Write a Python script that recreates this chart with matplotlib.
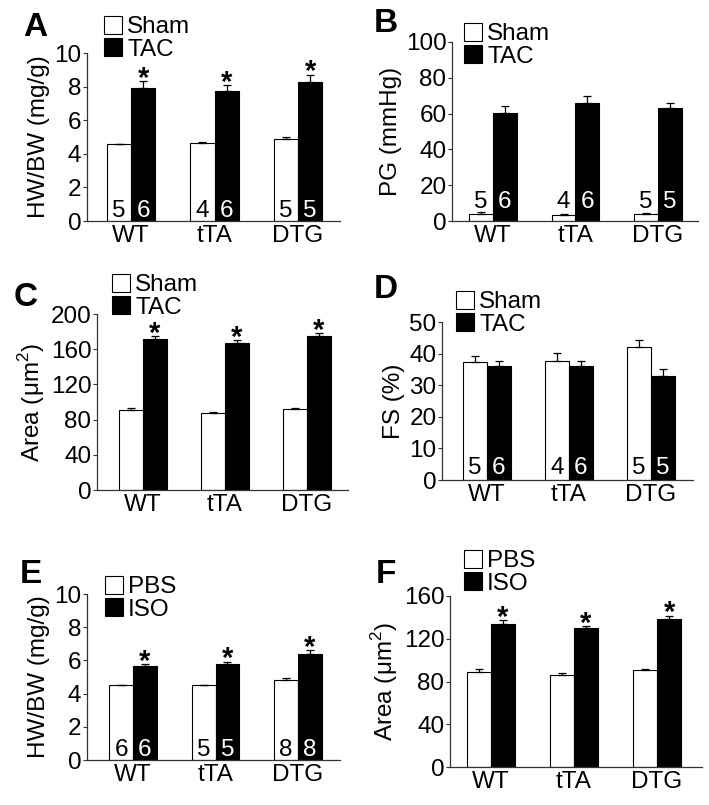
import matplotlib
matplotlib.use("Agg")
import matplotlib.pyplot as plt
from matplotlib.patches import Patch
import numpy as np

plt.rcParams['font.family'] = ['Liberation Sans', 'DejaVu Sans']
plt.rcParams['mathtext.fontset'] = 'custom'
plt.rcParams['mathtext.rm'] = 'Liberation Sans'

W, H = 709, 805
DPI = 100

genotypes = ["WT", "tTA", "DTG"]

# Panel A: HW/BW (TAC)
a_sham = [4.56, 4.67, 4.88]
a_sham_err = [0.05, 0.04, 0.11]
a_tac = [7.92, 7.76, 8.30]
a_tac_err = [0.42, 0.33, 0.40]
a_n_sham = [5, 4, 5]
a_n_tac = [6, 6, 5]
a_sig = [True, True, True]

# Panel B: PG
b_sham = [4.1, 3.5, 4.1]
b_sham_err = [1.0, 0.6, 0.5]
b_tac = [60.5, 65.7, 63.4]
b_tac_err = [3.9, 4.0, 2.8]
b_n_sham = [5, 4, 5]
b_n_tac = [6, 6, 5]
b_sig = [False, False, False]

# Panel C: Area (TAC)
c_sham = [91, 88, 92]
c_sham_err = [2.0, 0.8, 0.8]
c_tac = [171.5, 167.5, 174.5]
c_tac_err = [3.0, 3.0, 3.8]
c_sig = [True, True, True]

# Panel D: FS
d_sham = [37.2, 37.5, 42.1]
d_sham_err = [1.9, 2.6, 2.3]
d_tac = [36.2, 36.2, 32.8]
d_tac_err = [1.6, 1.6, 2.3]
d_n_sham = [5, 4, 5]
d_n_tac = [6, 6, 5]
d_sig = [False, False, False]

# Panel E: HW/BW (ISO)
e_pbs = [4.49, 4.49, 4.83]
e_pbs_err = [0.05, 0.05, 0.12]
e_iso = [5.64, 5.80, 6.38]
e_iso_err = [0.13, 0.13, 0.25]
e_n_pbs = [6, 5, 8]
e_n_iso = [6, 5, 8]
e_sig = [True, True, True]

# Panel F: Area (ISO)
f_pbs = [88.9, 85.8, 90.5]
f_pbs_err = [3.0, 2.2, 1.3]
f_iso = [134.0, 130.4, 138.6]
f_iso_err = [3.2, 1.3, 3.0]
f_sig = [True, True, True]

fig = plt.figure(figsize=(W / DPI, H / DPI), dpi=DPI)

FS = 17.5
AX_COLOR = '#333333'


def px_axes(l, r, b, t):
    return fig.add_axes([l / W, 1 - b / H, (r - l) / W, (b - t) / H])


def panel(rect, xlim, ylim, yticks, ctrl, ctrl_err, trt, trt_err, labels,
          ylabel, letter, letter_xy, leg_xy, n_ctrl=None, n_trt=None,
          sig=None, n_off=3):
    ax = px_axes(*rect)
    x = np.arange(len(genotypes))
    bw = 0.29
    ax.bar(x - bw / 2, ctrl, bw, color='white', edgecolor='black', linewidth=0.8,
           yerr=[np.zeros(len(ctrl)), ctrl_err], capsize=3,
           error_kw=dict(elinewidth=0.9, capthick=0.9, ecolor='black'), zorder=2)
    ax.bar(x + bw / 2, trt, bw, color='black', edgecolor='black', linewidth=0.8,
           yerr=[np.zeros(len(trt)), trt_err], capsize=3,
           error_kw=dict(elinewidth=0.9, capthick=0.9, ecolor='black'), zorder=2)
    ax.set_xlim(*xlim)
    ax.set_ylim(*ylim)
    ax.set_yticks(yticks)
    ax.set_xticks(x)
    ax.set_xticklabels(genotypes, fontsize=FS)
    ax.tick_params(axis='x', length=0, pad=3)
    ax.tick_params(axis='y', length=3, width=0.8, pad=1.0, labelsize=FS, color=AX_COLOR)
    for s in ['top', 'right']:
        ax.spines[s].set_visible(False)
    for s in ['left', 'bottom']:
        ax.spines[s].set_color(AX_COLOR)
        ax.spines[s].set_linewidth(0.9)
    ax.set_ylabel(ylabel, fontsize=FS, labelpad=3)
    if n_ctrl is not None:
        for i in range(len(x)):
            ax.annotate(str(n_ctrl[i]), (x[i] - bw / 2, 0), xytext=(0, n_off),
                        textcoords='offset points', ha='center', va='baseline',
                        fontsize=FS, color='black')
            ax.annotate(str(n_trt[i]), (x[i] + bw / 2, 0), xytext=(0, n_off),
                        textcoords='offset points', ha='center', va='baseline',
                        fontsize=FS, color='white')
    if sig is not None:
        for i in range(len(x)):
            if sig[i]:
                ax.annotate('*', (x[i] + bw / 2, trt[i] + trt_err[i]), xytext=(0, -4),
                            textcoords='offset points', ha='center', va='baseline',
                            fontsize=21, fontweight='bold')
    handles = [Patch(facecolor='white', edgecolor='black', linewidth=0.8),
               Patch(facecolor='black', edgecolor='black', linewidth=0.8)]
    ax.legend(handles, labels, loc='upper left',
              bbox_to_anchor=(leg_xy[0] / W, 1 - leg_xy[1] / H),
              bbox_transform=fig.transFigure, frameon=False, fontsize=FS,
              handlelength=0.75, handleheight=0.75, handletextpad=0.2,
              labelspacing=0.0, borderpad=0, borderaxespad=0)
    fig.text(letter_xy[0] / W, 1 - letter_xy[1] / H, letter, fontsize=24,
             fontweight='bold', ha='left', va='baseline')
    return ax


panel((87, 340, 221, 53), (-0.527, 2.503), (0, 10), np.arange(0, 11, 2),
      a_sham, a_sham_err, a_tac, a_tac_err, ['Sham', 'TAC'], 'HW/BW (mg/g)',
      'A', (23, 36), (104, 16), a_n_sham, a_n_tac, a_sig)

panel((452, 698, 221, 42), (-0.497, 2.485), (0, 100), np.arange(0, 101, 20),
      b_sham, b_sham_err, b_tac, b_tac_err, ['Sham', 'TAC'], 'PG (mmHg)',
      'B', (374, 32), (464, 23), b_n_sham, b_n_tac, b_sig, n_off=9.5)

panel((97, 348, 490, 314), (-0.561, 2.5), (0, 200), np.arange(0, 201, 40),
      c_sham, c_sham_err, c_tac, c_tac_err, ['Sham', 'TAC'],
      'Area (μm$^{2}$)', 'C', (14, 306), (112, 274), None, None, c_sig)

panel((442, 693, 480, 322), (-0.549, 2.512), (0, 50), np.arange(0, 51, 10),
      d_sham, d_sham_err, d_tac, d_tac_err, ['Sham', 'TAC'], 'FS (%)',
      'D', (374, 298), (456, 291), d_n_sham, d_n_tac, d_sig, n_off=4)

panel((87, 340, 760, 594), (-0.558, 2.509), (0, 10), np.arange(0, 11, 2),
      e_pbs, e_pbs_err, e_iso, e_iso_err, ['PBS', 'ISO'], 'HW/BW (mg/g)',
      'E', (20, 583), (105, 576), e_n_pbs, e_n_iso, e_sig)

panel((450, 702, 767, 596), (-0.494, 2.542), (0, 160), np.arange(0, 161, 40),
      f_pbs, f_pbs_err, f_iso, f_iso_err, ['PBS', 'ISO'],
      'Area (μm$^{2}$)', 'F', (376, 583), (464, 550), None, None, f_sig)

fig.savefig('out.png', dpi=DPI)
